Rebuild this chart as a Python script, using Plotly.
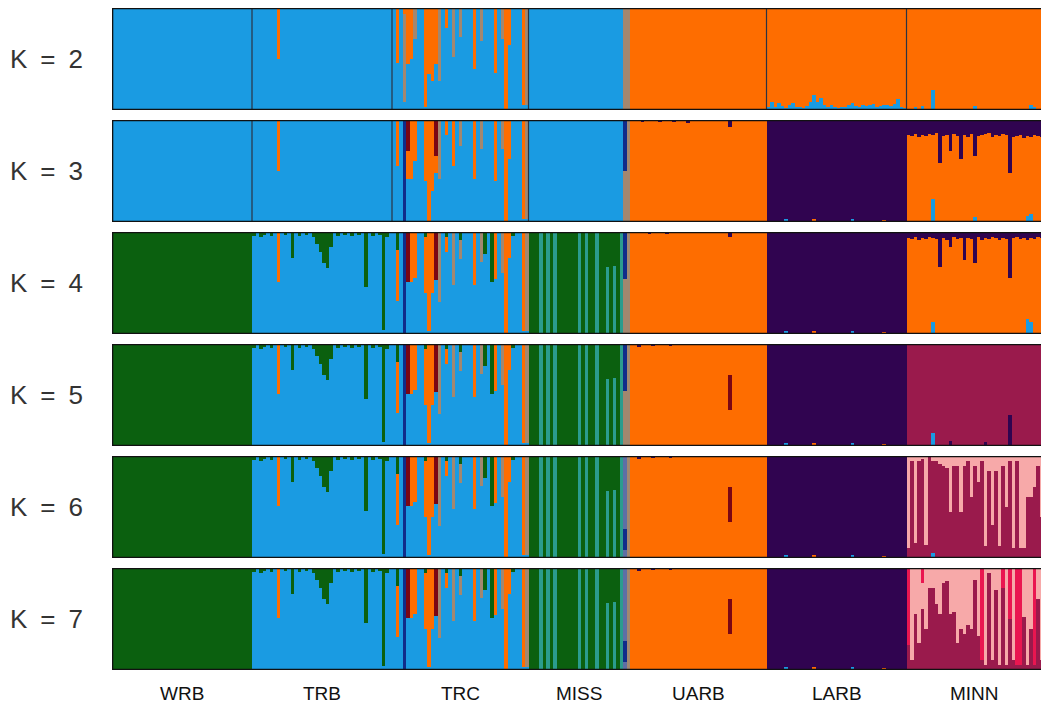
import plotly.graph_objects as go

# ---------------- data ----------------
POPS = ["WRB", "TRB", "TRC", "MISS", "UARB", "LARB", "MINN"]
POP_SIZES = [40, 40, 39, 29, 39, 40, 39]
K_VALUES = [2, 3, 4, 5, 6, 7]
K_LABELS = ["K\u2002=\u20022", "K\u2002=\u20023", "K\u2002=\u20024",
            "K\u2002=\u20025", "K\u2002=\u20026", "K\u2002=\u20027"]

COLOURS = {
    "blue": "#1a9be2", "orange": "#fe6d00", "purple": "#300450",
    "green": "#0b600f", "crimson": "#9a1a4c", "pink": "#f7a9a9",
    "red": "#ea1650", "navy": "#102c8a", "darkred": "#7a0614",
    "tan": "#a3876f", "teal": "#2b9c8e", "slate": "#5e6fa5",
}

# dominant cluster of each population in each K panel
BASE_CLUSTER = {
    2: ["blue", "blue", "blue", "blue", "orange", "orange", "orange"],
    3: ["blue", "blue", "blue", "blue", "orange", "purple", "orange"],
    4: ["green", "blue", "blue", "green", "orange", "purple", "orange"],
    5: ["green", "blue", "blue", "green", "orange", "purple", "crimson"],
    6: ["green", "blue", "blue", "green", "orange", "purple", "crimson"],
    7: ["green", "blue", "blue", "green", "orange", "purple", "crimson"],
}

# admixed individuals: index -> segments hanging from the top (colour, fraction)
TRB_TOP_K23 = {7: [("orange", 0.50)]}
TRB_TOP_K4 = {0: [("green", .04)], 2: [("green", .05)], 3: [("green", .03)], 5: [("green", .04)],
              7: [("orange", .49)], 9: [("green", .03)], 11: [("green", .25)], 13: [("green", .04)],
              15: [("green", .03)], 17: [("green", .05)], 18: [("green", .12)], 19: [("green", .20)],
              20: [("green", .30)], 21: [("green", .35)], 22: [("green", .15)], 24: [("green", .04)],
              26: [("green", .03)], 28: [("green", .04)], 30: [("green", .03)], 32: [("green", .54)],
              34: [("green", .04)], 36: [("green", .03)], 37: [("green", .96)], 38: [("green", .05)]}

TRC_TOP_K2 = {1: [("orange", .54)], 3: [("orange", .06), ("tan", .86)], 4: [("orange", .55)],
              5: [("orange", .50)], 6: [("tan", .30)], 9: [("orange", .97)], 10: [("orange", .65)],
              11: [("orange", .72)], 12: [("orange", .55)], 13: [("tan", .72)], 15: [("orange", .20)],
              17: [("tan", .48)], 19: [("tan", .28)], 23: [("orange", .60)], 25: [("tan", .32)],
              29: [("orange", .64)], 31: [("tan", .30)], 32: [("orange", 1.0)], 33: [("orange", .36)],
              37: [("orange", .95)], 38: [("tan", .95)]}
TRC_TOP_K3 = {1: [("orange", .45)], 3: [("navy", 1.0)], 4: [("darkred", .30), ("orange", .28)],
              5: [("orange", .58)], 6: [("orange", .40)], 9: [("orange", .60)], 10: [("orange", 1.0)],
              11: [("orange", .70)], 12: [("darkred", .35), ("orange", .17)], 13: [("tan", .58)],
              15: [("orange", .15)], 17: [("orange", .45)], 19: [("tan", .25)], 23: [("orange", .58)],
              25: [("tan", .28)], 29: [("orange", .60)], 31: [("tan", .28)], 32: [("orange", 1.0)],
              33: [("orange", .38)], 37: [("orange", .97)], 38: [("tan", .97)]}
TRC_TOP_K4 = {1: [("green", .18), ("orange", .50)], 3: [("navy", 1.0)], 4: [("darkred", .49)],
              5: [("orange", .49)], 6: [("orange", .45)], 9: [("green", .05), ("orange", .55)],
              10: [("orange", .97)], 11: [("orange", .60)], 12: [("darkred", .47)], 13: [("tan", .69)],
              15: [("green", .05), ("orange", .15)], 17: [("tan", .52)], 19: [("green", .08), ("tan", .18)],
              23: [("orange", .52)], 25: [("tan", .29)], 26: [("green", .22)], 28: [("green", .49)],
              29: [("orange", .46)], 31: [("tan", .40)], 32: [("orange", 1.0)], 33: [("orange", .25)],
              34: [("green", .04)], 37: [("orange", .97)], 38: [("tan", .97)]}

MISS_TOP_K2 = {27: [("tan", 1.0)], 28: [("tan", 1.0)]}
MISS_TOP_K3 = {27: [("navy", .50), ("tan", .50)], 28: [("tan", 1.0)]}
MISS_TOP_K45 = {3: [("teal", 1.0)], 5: [("teal", 1.0)], 7: [("teal", 1.0)], 14: [("teal", 1.0)],
                16: [("teal", 1.0)], 19: [("teal", 1.0)], 22: [("green", .34), ("teal", .66)],
                24: [("green", .33), ("teal", .67)], 26: [("teal", 1.0)],
                27: [("navy", .46), ("tan", .54)], 28: [("tan", 1.0)]}
MISS_TOP_K67 = {3: [("teal", 1.0)], 5: [("teal", 1.0)], 7: [("teal", 1.0)], 14: [("teal", 1.0)],
                16: [("teal", 1.0)], 19: [("teal", 1.0)], 22: [("green", .34), ("teal", .66)],
                24: [("green", .33), ("teal", .67)], 26: [("teal", 1.0)],
                27: [("slate", .72), ("navy", .20), ("slate", .08)], 28: [("tan", 1.0)]}

UARB_TOP_K3 = {3: [("purple", .02)], 8: [("purple", .02)], 12: [("purple", .02)],
               16: [("purple", .03)], 28: [("purple", .07)]}
UARB_TOP_K4 = {5: [("purple", .02)], 10: [("purple", .02)], 28: [("purple", .05)]}
UARB_TOP_K567 = {2: [("purple", .03)], 6: [("purple", .02)], 11: [("purple", .02)],
                 28: [("orange", .30), ("darkred", .35)]}

# LARB at K=2: light-blue share at the bottom of each bar
LARB_BLUE_K2 = [.03, .08, .03, .07, .04, .02, .05, .07, .03, .03, .02, .04, .08, .15, .08, .12,
                .05, .03, .05, .03, .02, .03, .03, .05, .07, .04, .03, .05, .04, .05, .06, .03,
                .04, .05, .05, .04, .06, .11, .03, .02]
LARB_BOTTOM_K3 = {5: [("blue", .03)], 13: [("orange", .03)], 24: [("blue", .03)], 33: [("orange", .02)]}

MINN_BOTTOM_K2 = {2: [("blue", .03)], 4: [("blue", .04)], 7: [("blue", .20)], 19: [("blue", .04)],
                  35: [("blue", .05)], 36: [("blue", .03)]}
MINN_PURPLE_K3 = [.15, .16, .14, .17, .15, .16, .14, .15, .13, .42, .16, .15, .30, .14, .16, .38,
                  .15, .17, .14, .35, .16, .15, .14, .13, .17, .15, .16, .14, .15, .52, .17, .16,
                  .15, .18, .16, .17, .15, .16, .17]
MINN_BOTTOM_K3 = {7: [("blue", .23)], 19: [("blue", .05)], 34: [("blue", .06)], 35: [("blue", .08)]}
MINN_PURPLE_K4 = [.06, .07, .05, .08, .06, .07, .05, .06, .07, .34, .06, .08, .15, .05, .07, .06,
                  .27, .06, .07, .30, .05, .08, .06, .07, .05, .06, .08, .06, .07, .45, .06, .05,
                  .07, .06, .08, .06, .07, .05, .06]
MINN_BOTTOM_K4 = {7: [("blue", .12)], 34: [("blue", .15)], 35: [("blue", .12)]}
MINN_BOTTOM_K5 = {7: [("blue", .13)], 12: [("purple", .05)], 22: [("purple", .04)], 29: [("purple", .30)]}
MINN_PINK_K6 = [.90, .05, .85, .05, .03, .87, .00, .05, .05, .08, .10, .12, .55, .10, .10, .55,
                .10, .05, .40, .10, .25, .05, .88, .15, .68, .15, .88, .10, .50, .05, .90, .05,
                .90, .90, .40, .40, .30, .10, .60]
MINN_BOTTOM_K6 = {7: [("blue", .05)]}
MINN_TOP_K7 = {0: [("red", .75)], 1: [("pink", .90)], 2: [("pink", .45)], 3: [("pink", .74)],
               4: [("red", .15), ("pink", .25)], 5: [("pink", .60)], 6: [("pink", .20)],
               7: [("pink", .20)], 8: [("pink", .35)], 9: [("pink", .45)], 10: [("pink", .15)],
               11: [("pink", .13)], 12: [("pink", .45)], 13: [("pink", .43)], 14: [("pink", .74)],
               15: [("pink", .60)], 16: [("pink", .65)], 17: [("pink", .56)], 18: [("pink", .60)],
               19: [("pink", .12)], 20: [("pink", .67)], 21: [("red", .90)], 22: [("pink", .95)],
               23: [("pink", .05)], 24: [("pink", .90)], 25: [("pink", .22)], 26: [("pink", .95)],
               27: [("red", .20)], 28: [("pink", .95)], 29: [("red", .50)], 30: [("pink", .90)],
               31: [("red", .95)], 32: [("red", .95)], 33: [("pink", .48)], 34: [("pink", .95)],
               35: [("pink", .60)], 36: [("red", .95)], 37: [("pink", .30)], 38: [("pink", .90)]}

# population boundaries drawn as thin lines (individual index) per panel
SEPARATORS = {2: [40, 80, 119, 187, 227], 3: [40, 80, 119]}


def as_top(values, colour):
    return {i: [(colour, v)] for i, v in enumerate(values) if v > 0}


def as_bottom(values, colour):
    return {i: [(colour, v)] for i, v in enumerate(values) if v > 0}


TOP = {
    2: {"TRB": TRB_TOP_K23, "TRC": TRC_TOP_K2, "MISS": MISS_TOP_K2},
    3: {"TRB": TRB_TOP_K23, "TRC": TRC_TOP_K3, "MISS": MISS_TOP_K3, "UARB": UARB_TOP_K3,
        "MINN": as_top(MINN_PURPLE_K3, "purple")},
    4: {"TRB": TRB_TOP_K4, "TRC": TRC_TOP_K4, "MISS": MISS_TOP_K45, "UARB": UARB_TOP_K4,
        "MINN": as_top(MINN_PURPLE_K4, "purple")},
    5: {"TRB": TRB_TOP_K4, "TRC": TRC_TOP_K4, "MISS": MISS_TOP_K45, "UARB": UARB_TOP_K567},
    6: {"TRB": TRB_TOP_K4, "TRC": TRC_TOP_K4, "MISS": MISS_TOP_K67, "UARB": UARB_TOP_K567,
        "MINN": as_top(MINN_PINK_K6, "pink")},
    7: {"TRB": TRB_TOP_K4, "TRC": TRC_TOP_K4, "MISS": MISS_TOP_K67, "UARB": UARB_TOP_K567,
        "MINN": MINN_TOP_K7},
}
BOTTOM = {
    2: {"LARB": as_bottom(LARB_BLUE_K2, "blue"), "MINN": MINN_BOTTOM_K2},
    3: {"LARB": LARB_BOTTOM_K3, "MINN": MINN_BOTTOM_K3},
    4: {"LARB": LARB_BOTTOM_K3, "MINN": MINN_BOTTOM_K4},
    5: {"LARB": LARB_BOTTOM_K3, "MINN": MINN_BOTTOM_K5},
    6: {"LARB": LARB_BOTTOM_K3, "MINN": MINN_BOTTOM_K6},
    7: {"LARB": LARB_BOTTOM_K3},
}

# ---------------- layout geometry (pixels) ----------------
W, H = 1041, 715
LEFT, TOP_M, BOTTOM_M = 112, 8, 45
PANEL_H, GAP = 102, 10
PX_PER_IND = 3.5
N = sum(POP_SIZES)
X_MAX = (W - LEFT) / PX_PER_IND
PLOT_H = H - TOP_M - BOTTOM_M


def panel_columns(K):
    cols = []
    for p, pop in enumerate(POPS):
        base = BASE_CLUSTER[K][p]
        tops = TOP[K].get(pop, {})
        bots = BOTTOM[K].get(pop, {})
        for i in range(POP_SIZES[p]):
            b = bots.get(i, [])
            t = tops.get(i, [])
            rest = max(0.0, 1.0 - sum(f for _, f in b) - sum(f for _, f in t))
            cols.append(list(b) + [(base, rest)] + list(reversed(t)))
    return cols


fig = go.Figure()
xs = [i + 0.5 for i in range(N)]
shapes, annotations = [], []

for row, K in enumerate(K_VALUES):
    n = row + 1
    xa = "x" if n == 1 else f"x{n}"
    ya = "y" if n == 1 else f"y{n}"
    cols = panel_columns(K)
    depth = max(len(c) for c in cols)
    for layer in range(depth):
        ys = [c[layer][1] if layer < len(c) else 0 for c in cols]
        cs = [COLOURS[c[layer][0]] if layer < len(c) else "#ffffff" for c in cols]
        fig.add_trace(go.Bar(x=xs, y=ys, width=1.0, marker=dict(color=cs, line=dict(width=0)),
                             xaxis=xa, yaxis=ya, showlegend=False, hoverinfo="skip"))
    top_px = TOP_M + row * (PANEL_H + GAP)
    bot_px = top_px + PANEL_H
    dom = [(H - BOTTOM_M - bot_px) / PLOT_H, (H - BOTTOM_M - top_px) / PLOT_H]
    ax_suffix = "" if n == 1 else str(n)
    fig.layout["xaxis" + ax_suffix] = dict(domain=[0, 1], range=[0, X_MAX], visible=False,
                                           anchor=ya, fixedrange=True)
    fig.layout["yaxis" + ax_suffix] = dict(domain=dom, range=[0, 1], visible=False,
                                           anchor=xa, fixedrange=True)
    for s in SEPARATORS.get(K, []):
        shapes.append(dict(type="line", xref=xa, yref=ya, x0=s, x1=s, y0=0, y1=1,
                           line=dict(color="#2a3344", width=1.2), layer="above"))
    for y0, y1, x0, x1 in [(0, 0, 0, X_MAX), (1, 1, 0, X_MAX), (0, 1, 0, 0)]:
        shapes.append(dict(type="line", xref=xa, yref=ya, x0=x0, x1=x1, y0=y0, y1=y1,
                           line=dict(color="#111111", width=2.6), layer="above"))
    annotations.append(dict(text=K_LABELS[row], xref="paper", yref="paper",
                            x=(46 - LEFT) / (W - LEFT), y=sum(dom) / 2, showarrow=False,
                            xanchor="center", yanchor="middle",
                            font=dict(family="Liberation Sans, Arial", size=26, color="#333333")))

start = 0
for p, pop in enumerate(POPS):
    centre = start + POP_SIZES[p] / 2
    start += POP_SIZES[p]
    annotations.append(dict(text=pop, xref="x6", yref="paper", x=centre,
                            y=(H - BOTTOM_M - 693) / PLOT_H, showarrow=False,
                            xanchor="center", yanchor="middle",
                            font=dict(family="Liberation Sans, Arial", size=19, color="#111111")))

fig.update_layout(width=W, height=H, margin=dict(l=LEFT, r=0, t=TOP_M, b=BOTTOM_M),
                  autosize=False,
                  paper_bgcolor="white", plot_bgcolor="white", barmode="stack", bargap=0,
                  shapes=shapes, annotations=annotations, showlegend=False)

fig.write_html(
    "out.html",
    config={"responsive": False, "displayModeBar": False},
    default_width="1041px", default_height="715px",
    post_script="document.body.style.margin='0px';document.body.style.overflow='hidden';"
                "Plotly.relayout(document.getElementById('{plot_id}'), {width: 1041, height: 715});",
)
